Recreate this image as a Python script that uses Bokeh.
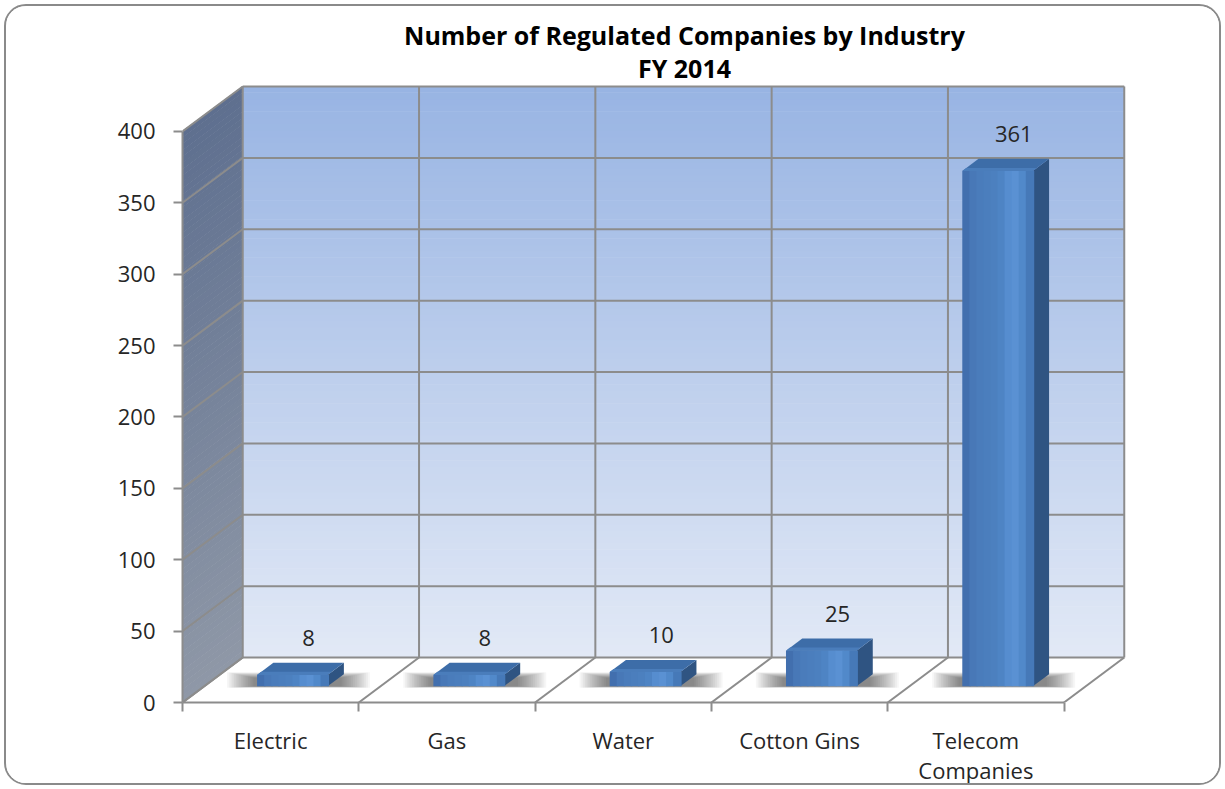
import numpy as np
from bokeh.plotting import figure
from bokeh.models import Range1d, FixedTicker, Title
from bokeh.core.properties import value
from bokeh.embed import file_html
from bokeh.resources import INLINE

# ---------------- data ----------------
categories = ["Electric", "Gas", "Water", "Cotton Gins", "Telecom Companies"]
tick_labels = ["Electric", "Gas", "Water", "Cotton Gins", "Telecom\nCompanies"]
counts = [8, 8, 10, 25, 361]
y_ticks = [0, 50, 100, 150, 200, 250, 300, 350, 400]
title_line1 = "Number of Regulated Companies by Industry"
title_line2 = "FY 2014"

# ---------------- geometry / style ----------------
SHIFT = 6                      # canvas offset inside the bordered box
W, H = 1225 - 2 * SHIFT, 789 - 2 * SHIFT
BL = 182 - SHIFT
BT = 82 - SHIFT
BB = 789 - 703 - SHIFT
BR = W - (2 * 682 - 182 - SHIFT)   # frame centred on the title centre
PX_PER_CAT = 175.6
PX_PER_UNIT = 1.43
frame_w = W - BL - BR
frame_h = H - BT - BB
DX = 60 / PX_PER_CAT      # depth offset in category units
DY = 45 / PX_PER_UNIT     # depth offset in value units
YMAX = y_ticks[-1]
N = len(categories)
FONT = "Open Sans"
GRID = "#8c8c8c"
TXT = "#262626"


def lerp_hex(c1, c2, t):
    a = np.array([int(c1[i:i + 2], 16) for i in (1, 3, 5)], float)
    b = np.array([int(c2[i:i + 2], 16) for i in (1, 3, 5)], float)
    c = a + (b - a) * t
    return "#%02x%02x%02x" % tuple(int(round(v)) for v in c)


p = figure(width=W, height=H, title=None,
           x_range=Range1d(0, frame_w / PX_PER_CAT),
           y_range=Range1d(0, frame_h / PX_PER_UNIT),
           output_backend="svg", toolbar_location=None,
           min_border_left=BL, min_border_right=BR,
           min_border_top=BT, min_border_bottom=BB)
p.margin = (SHIFT - 2, SHIFT - 2, SHIFT - 2, SHIFT - 2)
p.styles = {"border": "2px solid #8a8a8a", "border-radius": "22px",
            "box-sizing": "content-box", "overflow": "hidden",
            "background-color": "white"}
p.outline_line_color = None
p.xgrid.visible = False
p.ygrid.visible = False
p.background_fill_color = "white"
p.border_fill_color = "white"

# ---------------- back wall (gradient) ----------------
ns = 90
edges = np.linspace(0, YMAX, ns + 1)
bw_cols = [lerp_hex("#e2e9f6", "#98b4e3", (k + 0.5) / ns) for k in range(ns)]
p.quad(left=DX, right=N + DX, bottom=edges[:-1] + DY, top=edges[1:] + DY + 0.4,
       fill_color=bw_cols, line_color=None)

# ---------------- left wall (gradient) ----------------
lw_cols = [lerp_hex("#8f98a7", "#5e6f8f", (k + 0.5) / ns) for k in range(ns)]
p.patches(xs=[[0, DX, DX, 0] for _ in range(ns)],
          ys=[[edges[k], edges[k] + DY, edges[k + 1] + DY + 0.4, edges[k + 1] + 0.4] for k in range(ns)],
          fill_color=lw_cols, line_color=None)

# ---------------- floor ----------------
p.patch(x=[0, N, N + DX, DX], y=[0, 0, DY, DY], fill_color="white", line_color=None)

# ---------------- grid lines ----------------
gx, gy = [], []
for v in y_ticks:
    gx.append([DX, N + DX]); gy.append([v + DY, v + DY])      # back wall horizontals
    gx.append([0, DX]); gy.append([v, v + DY])                # left wall diagonals
for i in range(1, N + 1):
    gx.append([i + DX, i + DX]); gy.append([DY, YMAX + DY])   # back wall verticals
for i in range(0, N + 1):
    gx.append([i, i + DX]); gy.append([0, DY])                # floor lines
gx.append([DX, DX]); gy.append([DY, YMAX + DY])
p.multi_line(xs=gx, ys=gy, line_color=GRID, line_width=2)

# ---------------- bars ----------------
half = 0.2
z0, z1 = 0.36, 0.63
shades = ["#426fae", "#4878b7", "#4a7cbb", "#4b7ebd", "#4c80bf", "#4e84c4",
          "#568dcf", "#5a91d3", "#5189ca", "#4679b8"]
px_x = 1 / PX_PER_CAT
px_y = 1 / PX_PER_UNIT
for i, v in enumerate(counts):
    c = i + 0.5
    xl = c - half + z0 * DX
    xr = c + half + z0 * DX
    xside = xr + (z1 - z0) * DX
    yb = z0 * DY
    # soft horizontal shadow band on the floor
    nl = 16
    f = [(1 - k / nl) for k in range(nl)]
    sl = [xl - (28 * a + 2) * px_x for a in f]
    sr = [xside + (30 * a - 4) * px_x for a in f]
    sb = [yb - a * 1.5 * px_y for a in f]
    st = [z1 * DY + (6 * a - 4) * px_y for a in f]
    p.quad(left=sl, right=sr, bottom=sb, top=st,
           fill_color="black", fill_alpha=0.034, line_color=None)
    # side face
    p.patch(x=[xr, xside, xside, xr],
            y=[yb, z1 * DY, v + z1 * DY, v + yb],
            fill_color="#2f5482", line_color=None)
    # top face
    p.patch(x=[xl, xr, xside, xl + (z1 - z0) * DX],
            y=[v + yb, v + yb, v + z1 * DY, v + z1 * DY],
            fill_color="#3d6da8", line_color=None)
    p.patch(x=[xl, xr, xr + 0.25 * (z1 - z0) * DX, xl + 0.25 * (z1 - z0) * DX],
            y=[v + yb, v + yb, v + yb + 0.25 * (z1 - z0) * DY, v + yb + 0.25 * (z1 - z0) * DY],
            fill_color="#4a7dbb", line_color=None)
    # front face in vertical strips (shading)
    xs_f = np.linspace(xl, xr, len(shades) + 1)
    p.quad(left=xs_f[:-1], right=xs_f[1:] + 0.008, bottom=yb, top=v + yb,
           fill_color=shades, line_color=None)

# ---------------- data labels ----------------
lab_x = [i + 0.5 + 0.63 * DX for i in range(N)]
lab_y = [v + z1 * DY for v in counts]
p.text(x=lab_x, y=lab_y, text=[str(v) for v in counts],
       text_align="center", text_baseline="bottom", y_offset=-17,
       text_font=value(FONT), text_font_size="22px", text_color=TXT)

# ---------------- axes ----------------
p.yaxis.ticker = FixedTicker(ticks=y_ticks, minor_ticks=[])
p.yaxis.bounds = (0, YMAX)
p.yaxis.axis_line_color = GRID
p.yaxis.axis_line_width = 2
p.yaxis.major_tick_line_color = GRID
p.yaxis.major_tick_line_width = 2
p.yaxis.major_tick_out = 9
p.yaxis.major_tick_in = 0
p.yaxis.major_label_standoff = 18
p.yaxis.major_label_text_font = FONT
p.yaxis.major_label_text_font_size = "22px"
p.yaxis.major_label_text_color = TXT

p.xaxis.ticker = FixedTicker(ticks=[i + 0.5 for i in range(N)], minor_ticks=list(range(N + 1)))
p.xaxis.major_label_overrides = {i + 0.5: lab for i, lab in enumerate(tick_labels)}
p.xaxis.bounds = (0, N)
p.xaxis.axis_line_color = GRID
p.xaxis.axis_line_width = 2
p.xaxis.major_tick_line_color = None
p.xaxis.major_tick_out = 0
p.xaxis.major_tick_in = 0
p.xaxis.minor_tick_line_color = GRID
p.xaxis.minor_tick_line_width = 2
p.xaxis.minor_tick_out = 9
p.xaxis.minor_tick_in = 0
p.xaxis.major_label_standoff = 13
p.xaxis.major_label_text_font = FONT
p.xaxis.major_label_text_font_size = "22px"
p.xaxis.major_label_text_line_height = 1.0
p.xaxis.major_label_text_color = TXT

# ---------------- title (two centred lines) ----------------
p.add_layout(Title(text=title_line2, align="center", standoff=-4,
                   text_font=FONT, text_font_style="bold",
                   text_font_size="25px", text_color="#000000"), "above")
p.add_layout(Title(text=title_line1, align="center", standoff=-2,
                   text_font=FONT, text_font_style="bold",
                   text_font_size="25px", text_color="#000000"), "above")

open("out.html", "w").write(file_html(p, INLINE))
